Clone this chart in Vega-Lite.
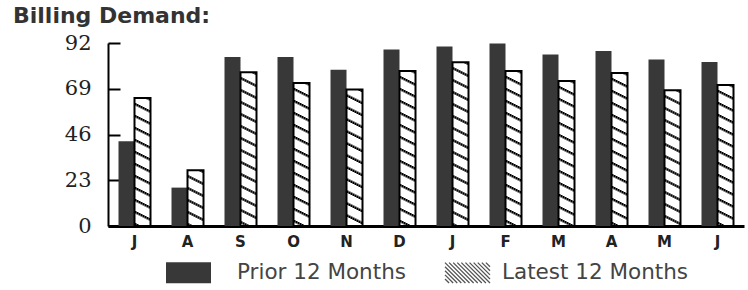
{
  "$schema": "https://vega.github.io/schema/vega-lite/v6.json",
  "width": 636,
  "height": 183,
  "autosize": {"type": "none"},
  "padding": {"left": 108, "top": 43, "right": 4, "bottom": 64},
  "background": "white",
  "title": {"text": "Billing Demand:", "anchor": "start", "frame": "group", "dx": -95, "font": "DejaVu Sans", "fontSize": 22, "fontWeight": "bold", "color": "#333", "offset": 4},
  "data": {"values": [
    {"month": "Jul", "series": "Prior 12 Months", "value": 42.6},
    {"month": "Jul", "series": "Latest 12 Months", "value": 64.4},
    {"month": "Aug", "series": "Prior 12 Months", "value": 19.3},
    {"month": "Aug", "series": "Latest 12 Months", "value": 28.0},
    {"month": "Sep", "series": "Prior 12 Months", "value": 85.0},
    {"month": "Sep", "series": "Latest 12 Months", "value": 77.3},
    {"month": "Oct", "series": "Prior 12 Months", "value": 85.0},
    {"month": "Oct", "series": "Latest 12 Months", "value": 71.9},
    {"month": "Nov", "series": "Prior 12 Months", "value": 78.6},
    {"month": "Nov", "series": "Latest 12 Months", "value": 68.6},
    {"month": "Dec", "series": "Prior 12 Months", "value": 88.7},
    {"month": "Dec", "series": "Latest 12 Months", "value": 77.9},
    {"month": "Jan", "series": "Prior 12 Months", "value": 90.3},
    {"month": "Jan", "series": "Latest 12 Months", "value": 82.3},
    {"month": "Feb", "series": "Prior 12 Months", "value": 91.7},
    {"month": "Feb", "series": "Latest 12 Months", "value": 77.9},
    {"month": "Mar", "series": "Prior 12 Months", "value": 86.2},
    {"month": "Mar", "series": "Latest 12 Months", "value": 72.9},
    {"month": "Apr", "series": "Prior 12 Months", "value": 88.0},
    {"month": "Apr", "series": "Latest 12 Months", "value": 76.9},
    {"month": "May", "series": "Prior 12 Months", "value": 83.7},
    {"month": "May", "series": "Latest 12 Months", "value": 68.2},
    {"month": "Jun", "series": "Prior 12 Months", "value": 82.5},
    {"month": "Jun", "series": "Latest 12 Months", "value": 70.9}
  ]},
  "encoding": {
    "x": {"field": "month", "type": "nominal", "sort": null,
      "scale": {"domain": ["Jul","Aug","Sep","Oct","Nov","Dec","Jan","Feb","Mar","Apr","May","Jun"], "paddingInner": 0, "paddingOuter": 0},
      "axis": {"title": null, "labelExpr": "slice(datum.label, 0, 1)", "labelAngle": 0, "ticks": false, "domainWidth": 3, "domainColor": "black", "labelFont": "DejaVu Sans", "labelFontWeight": "bold", "labelFontSize": 15, "labelColor": "#222", "labelPadding": 8}}
  },
  "layer": [
    {
      "mark": {"type": "bar"},
      "encoding": {
        "xOffset": {"field": "series", "type": "nominal", "scale": {"domain": ["Prior 12 Months", "Latest 12 Months"], "paddingInner": 0, "paddingOuter": 0.656}},
        "y": {"field": "value", "type": "quantitative",
          "scale": {"domain": [0, 92], "nice": false, "zero": true},
          "axis": {"title": null, "values": [0, 23, 46, 69, 92], "grid": false, "domainWidth": 2, "domainColor": "black", "tickColor": "black", "tickWidth": 2, "tickSize": -12, "labelFont": "DejaVu Serif", "labelFontSize": 21, "labelColor": "#222", "labelPadding": 29}},
        "fill": {"field": "series", "type": "nominal",
          "scale": {"domain": ["Prior 12 Months", "Latest 12 Months"], "range": ["#383838", "white"]},
          "legend": {"title": null, "orient": "none", "legendX": 57, "legendY": 206, "direction": "horizontal", "padding": 0, "symbolSize": 2025, "labelFont": "DejaVu Sans", "labelFontSize": 21.5, "labelColor": "#444", "labelOffset": 25, "labelLimit": 400, "columnPadding": 23, "symbolOpacity": 1,
            "encode": {"symbols": {"update": {
              "shape": {"signal": "datum.value === 'Prior 12 Months' ? 'M-1,-0.467H1V0.467H-1Z' : 'M-.378,.273L-.196,.455M-.378,.091L-.014,.455M-.378,-.091L.167,.455M-.378,-.273L.349,.455M-.378,-.455L.531,.455M-.196,-.455L.713,.455M-.014,-.455L.895,.455M.167,-.455L1.077,.455M.349,-.455L1.258,.455M.531,-.455L1.44,.455M.713,-.455L1.622,.455M.895,-.455L1.622,.273M1.077,-.455L1.622,.091M1.258,-.455L1.622,-.091M1.44,-.455L1.622,-.273'"},
              "fill": {"signal": "datum.value === 'Prior 12 Months' ? '#383838' : 'transparent'"},
              "stroke": {"signal": "datum.value === 'Prior 12 Months' ? 'transparent' : '#555'"},
              "strokeWidth": {"value": 1.3}
            }}}}
        }
      }
    },
    {"transform": [{"filter": "datum.series === 'Latest 12 Months'"}], "mark": {"type": "rule", "xOffset": 1, "strokeWidth": 2, "strokeDash": [2.5, 9.5], "strokeDashOffset": 7, "color": "black", "strokeCap": "butt"}, "encoding": {"y": {"field": "value", "type": "quantitative"}, "y2": {"datum": 0}}},
    {"transform": [{"filter": "datum.series === 'Latest 12 Months'"}], "mark": {"type": "rule", "xOffset": 3, "strokeWidth": 2, "strokeDash": [2.5, 9.5], "strokeDashOffset": 6, "color": "black", "strokeCap": "butt"}, "encoding": {"y": {"field": "value", "type": "quantitative"}, "y2": {"datum": 0}}},
    {"transform": [{"filter": "datum.series === 'Latest 12 Months'"}], "mark": {"type": "rule", "xOffset": 5, "strokeWidth": 2, "strokeDash": [2.5, 9.5], "strokeDashOffset": 5, "color": "black", "strokeCap": "butt"}, "encoding": {"y": {"field": "value", "type": "quantitative"}, "y2": {"datum": 0}}},
    {"transform": [{"filter": "datum.series === 'Latest 12 Months'"}], "mark": {"type": "rule", "xOffset": 7, "strokeWidth": 2, "strokeDash": [2.5, 9.5], "strokeDashOffset": 4, "color": "black", "strokeCap": "butt"}, "encoding": {"y": {"field": "value", "type": "quantitative"}, "y2": {"datum": 0}}},
    {"transform": [{"filter": "datum.series === 'Latest 12 Months'"}], "mark": {"type": "rule", "xOffset": 9, "strokeWidth": 2, "strokeDash": [2.5, 9.5], "strokeDashOffset": 3, "color": "black", "strokeCap": "butt"}, "encoding": {"y": {"field": "value", "type": "quantitative"}, "y2": {"datum": 0}}},
    {"transform": [{"filter": "datum.series === 'Latest 12 Months'"}], "mark": {"type": "rule", "xOffset": 11, "strokeWidth": 2, "strokeDash": [2.5, 9.5], "strokeDashOffset": 2, "color": "black", "strokeCap": "butt"}, "encoding": {"y": {"field": "value", "type": "quantitative"}, "y2": {"datum": 0}}},
    {"transform": [{"filter": "datum.series === 'Latest 12 Months'"}], "mark": {"type": "rule", "xOffset": 13, "strokeWidth": 2, "strokeDash": [2.5, 9.5], "strokeDashOffset": 1, "color": "black", "strokeCap": "butt"}, "encoding": {"y": {"field": "value", "type": "quantitative"}, "y2": {"datum": 0}}},
    {"transform": [{"filter": "datum.series === 'Latest 12 Months'"}], "mark": {"type": "rule", "xOffset": 15, "strokeWidth": 2, "strokeDash": [2.5, 9.5], "strokeDashOffset": 0, "color": "black", "strokeCap": "butt"}, "encoding": {"y": {"field": "value", "type": "quantitative"}, "y2": {"datum": 0}}},
    {
      "transform": [{"filter": "datum.series === 'Latest 12 Months'"}],
      "mark": {"type": "bar", "fill": "transparent", "stroke": "black", "strokeWidth": 2},
      "encoding": {
        "xOffset": {"field": "series", "type": "nominal", "scale": {"domain": ["Prior 12 Months", "Latest 12 Months"], "paddingInner": 0, "paddingOuter": 0.656}},
        "y": {"field": "value", "type": "quantitative"}
      }
    }
  ],
  "config": {"view": {"stroke": null}}
}
